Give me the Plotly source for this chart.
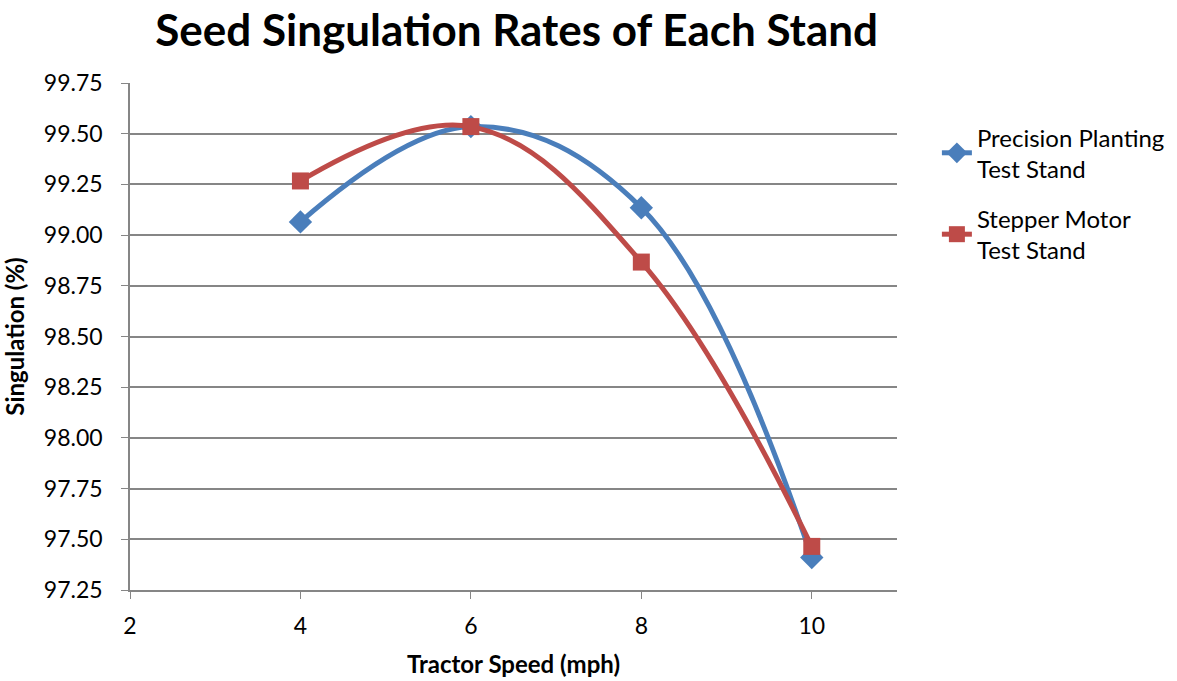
import plotly.graph_objects as go

speeds = [4, 6, 8, 10]
precision_planting = [99.065, 99.535, 99.135, 97.41]
stepper_motor = [99.267, 99.535, 98.867, 97.465]
series_names = ["Precision Planting<br>Test Stand", "Stepper Motor<br>Test Stand"]
y_ticks = [97.25, 97.50, 97.75, 98.00, 98.25, 98.50, 98.75, 99.00, 99.25, 99.50, 99.75]
x_ticks = [2, 4, 6, 8, 10]

FONT = "Lato"
fig = go.Figure()
fig.add_trace(go.Scatter(
    x=speeds, y=precision_planting, name=series_names[0], legendgroup="pp",
    mode="lines+markers", line=dict(color="#4A7EBB", width=5, shape="spline", smoothing=1.1),
    marker=dict(symbol="diamond", size=18, color="#4A7EBB")))
fig.add_trace(go.Scatter(
    x=speeds, y=stepper_motor, name=series_names[1], legendgroup="sm",
    mode="lines+markers", line=dict(color="#BE4B48", width=5, shape="spline", smoothing=1.1),
    marker=dict(symbol="square", size=17, color="#BE4B48")))

fig.update_layout(
    width=1177, height=681,
    paper_bgcolor="white", plot_bgcolor="white",
    margin=dict(l=130, r=280, t=83, b=91, autoexpand=False),
    font=dict(family=FONT, color="black", size=23),
    title=dict(text="<b>Seed Singulation Rates of Each Stand</b>", x=0.439, xanchor="center",
               y=0.978, yanchor="top", font=dict(size=44, family=FONT, color="black")),
    legend=dict(xref="container", yref="container", x=0.796, y=0.831,
                xanchor="left", yanchor="top", font=dict(size=24, family=FONT),
                tracegroupgap=16, traceorder="grouped", bgcolor="rgba(0,0,0,0)"),
    showlegend=True,
)
fig.update_xaxes(
    range=[2, 11], tickvals=x_ticks, ticktext=[str(v) for v in x_ticks],
    showgrid=False, showline=True, linecolor="#868686", linewidth=1.5,
    ticks="outside", ticklen=7, tickcolor="#868686", tickfont=dict(size=23),
    ticklabelstandoff=8, automargin=False,
    zeroline=False,
    title=dict(text="<b>Tractor Speed (mph)</b>", font=dict(size=24), standoff=18),
)
fig.update_yaxes(
    range=[97.25, 99.75], tickvals=y_ticks, ticktext=[f"{v:.2f}" for v in y_ticks],
    showgrid=True, gridcolor="#868686", gridwidth=1.5,
    showline=True, linecolor="#868686", linewidth=1.5,
    ticks="outside", ticklen=7, tickcolor="#868686", tickfont=dict(size=23),
    ticklabelstandoff=14, automargin=False,
    zeroline=False,
    title=dict(text="<b>Singulation (%)</b>", font=dict(size=24), standoff=18),
)
fig.write_html("out.html")
